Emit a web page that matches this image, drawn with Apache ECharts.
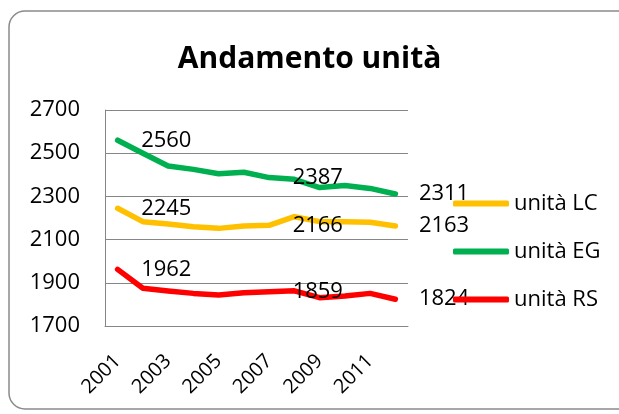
<!DOCTYPE html>
<html>
<head>
<meta charset="utf-8">
<script src="https://cdn.jsdelivr.net/npm/echarts@6/dist/echarts.min.js"></script>
<style>
html,body{margin:0;padding:0;background:#fff;}
#chart{width:619px;height:414px;}
</style>
</head>
<body>
<div id="chart"></div>
<script>
var years = ['2001','2002','2003','2004','2005','2006','2007','2008','2009','2010','2011','2012'];
var unitaLC = [2245, 2183, 2172, 2160, 2152, 2163, 2166, 2206, 2183, 2183, 2180, 2163];
var unitaEG = [2560, 2500, 2441, 2425, 2405, 2412, 2387, 2379, 2341, 2350, 2337, 2311];
var unitaRS = [1962, 1875, 1862, 1851, 1843, 1854, 1859, 1863, 1831, 1839, 1851, 1824];
var seriesNames = ['unità LC', 'unità EG', 'unità RS'];
var labelIndices = [0, 6, 11];
var yTicks = { min: 1700, max: 2700, interval: 200 };

var FONT = '"Open Sans", "Noto Sans", sans-serif';

function buildData(values, lastOffset) {
  return values.map(function (v, i) {
    var show = labelIndices.indexOf(i) >= 0;
    var item = { value: v, label: { show: show } };
    if (show && i === values.length - 1 && lastOffset) {
      item.label.offset = lastOffset;
    }
    return item;
  });
}

function mkSeries(name, values, color, lastOffset) {
  return {
    name: name,
    type: 'line',
    data: buildData(values, lastOffset),
    showSymbol: true,
    symbol: 'circle',
    symbolSize: 1,
    smooth: false,
    lineStyle: { color: color, width: 5.5, cap: 'round', join: 'round' },
    itemStyle: { color: color },
    label: {
      show: false,
      position: 'right',
      distance: 23,
      offset: [0, 2],
      color: '#000',
      fontFamily: FONT,
      fontSize: 22
    },
    labelLayout: { hideOverlap: false },
    emphasis: { disabled: true },
    animation: false
  };
}

var chart = echarts.init(document.getElementById('chart'), null, { renderer: 'canvas' });
chart.setOption({
  backgroundColor: '#fff',
  animation: false,
  title: {
    text: 'Andamento unità',
    left: 'center',
    top: 39,
    textStyle: { fontFamily: FONT, fontWeight: 'bold', fontSize: 30, color: '#000' }
  },
  graphic: [{
    type: 'rect',
    shape: { x: 9, y: 11, width: 640, height: 398, r: 16 },
    style: { fill: 'none', stroke: '#8a8a8a', lineWidth: 1.5 },
    silent: true,
    z: -1
  }],
  legend: {
    orient: 'vertical',
    left: 448,
    top: 186,
    itemWidth: 56,
    itemHeight: 6,
    itemGap: 23,
    icon: 'roundRect',
    data: seriesNames,
    textStyle: { fontFamily: FONT, fontSize: 22, color: '#000', lineHeight: 25 }
  },
  grid: { left: 105, right: 211, top: 110, bottom: 88, containLabel: false },
  xAxis: {
    type: 'category',
    data: years,
    boundaryGap: true,
    axisLine: { show: true, lineStyle: { color: '#868686', width: 1 } },
    axisTick: { show: false },
    axisLabel: {
      interval: 1,
      rotate: 45,
      margin: 32,
      fontFamily: FONT,
      fontSize: 20,
      color: '#000'
    },
    splitLine: { show: false }
  },
  yAxis: {
    type: 'value',
    min: yTicks.min,
    max: yTicks.max,
    interval: yTicks.interval,
    axisLine: { show: true, lineStyle: { color: '#868686', width: 1 } },
    axisTick: { show: false },
    axisLabel: {
      margin: 25, fontFamily: FONT, fontSize: 22, color: '#000',
      formatter: function (v) { return String(v); }
    },
    splitLine: { show: true, lineStyle: { color: '#868686', width: 1 } }
  },
  series: [
    mkSeries(seriesNames[0], unitaLC, '#FFC000'),
    mkSeries(seriesNames[1], unitaEG, '#00B050', [0, -12]),
    mkSeries(seriesNames[2], unitaRS, '#FF0000')
  ]
});
</script>
</body>
</html>
